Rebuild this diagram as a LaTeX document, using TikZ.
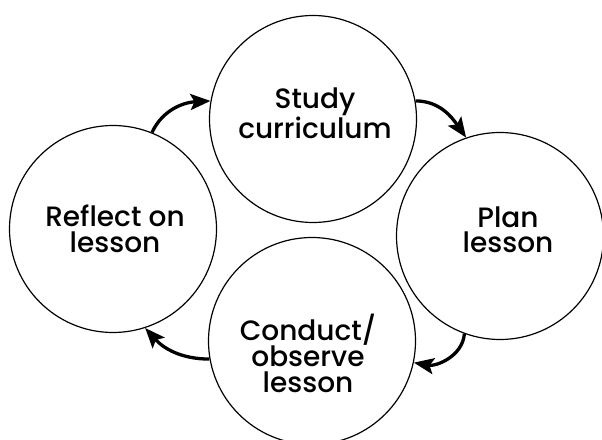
\documentclass[tikz,border=0pt]{standalone}
\usepackage{fontspec}
\IfFontExistsTF{Poppins Medium}{\setmainfont{Poppins Medium}}{\setmainfont{Poppins}}
\usetikzlibrary{arrows.meta}

\tikzset{
  stage/.style={circle, draw, line width=1.2pt, minimum size=207pt, inner sep=0pt},
  stagetext/.style={align=center, inner sep=0pt, font=\fontsize{28}{25.5}\selectfont},
  turn/.style={-{Stealth[length=20pt,width=16pt,inset=4pt]}, line width=3.3pt}
}

\begin{document}
\begin{tikzpicture}[x=1pt, y=1pt]
  \useasboundingbox (0,0) rectangle (602,439);

  % the four circles of the cycle
  \node[stage] (study) at (313, 320) {};
  \node[stage] (plan) at (500, 203) {};
  \node[stage] (cond) at (312, 98) {};
  \node[stage] (refl) at (113, 210) {};

  \node[stagetext] (studytext) at (315, 326) {Study\\curriculum};
  \node[stagetext] (plantext) at (508, 209) {Plan\\lesson};
  \node[stagetext] (condtext) at (308, 86) {Conduct/\\observe\\lesson};
  \node[stagetext] (refltext) at (115, 210) {Reflect on\\lesson};

  \draw
  (refl.68) edge[turn, out=65, in=183] (study.170)
  (study.10) edge[turn, out=0, in=125] (plan.109)
  (plan.250) edge[turn, out=265, in=350] (cond.348)
  (cond.190) edge[turn, out=180, in=312] (refl.288);
\end{tikzpicture}
\end{document}
